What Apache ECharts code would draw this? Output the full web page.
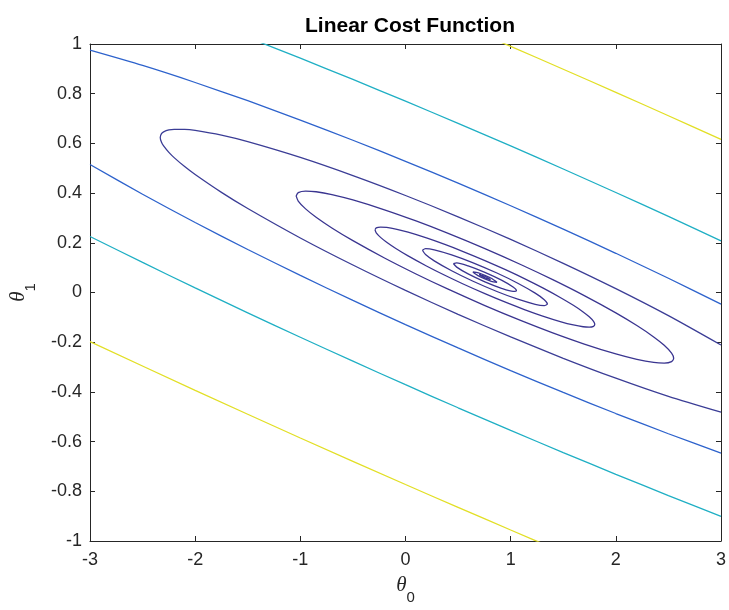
<!DOCTYPE html>
<html>
<head>
    <meta charset="utf-8">
    <script src="https://cdn.jsdelivr.net/npm/echarts@6/dist/echarts.min.js"></script>
    <style>
        *{
            margin:0;
            padding:0;
        }
        body{ background:#fff; }
    </style>
</head>
<body>
    <div id="main" style="width: 729px;height:610px;"></div>
    <script type="text/javascript">

    // axis ticks
    var xTicks = [-3, -2, -1, 0, 1, 2, 3];
    var yTicks = [-1, -0.8, -0.6, -0.4, -0.2, 0, 0.2, 0.4, 0.6, 0.8, 1];

    // contour lines, [theta0, theta1]
    var yellowUpper = [[0.5,1.0815],[1,0.9905],[1.5,0.8985],[2,0.8054],[2.5,0.7113],[3,0.6161]];
    var yellowLower = [[-3,-0.1979],[-2,-0.3938],[-1,-0.5854],[0,-0.7727],[0.5,-0.8647],[1,-0.9557],[1.5,-1.0457]];
    var cyanUpper = [[-1.5,1.0265],[-1,0.9429],[-0.5,0.8573],[0,0.7699],[0.5,0.6807],[1,0.5897],[1.5,0.4969],[2,0.4024],[2.5,0.306],[3,0.2077]];
    var cyanLower = [[-3,0.2254],[-2.5,0.1209],[-2,0.0185],[-1.5,-0.0817],[-1,-0.1801],[-0.5,-0.2765],[0,-0.3711],[0.5,-0.4639],[1,-0.5549],[1.5,-0.6441],[2,-0.7316],[2.5,-0.8172],[3,-0.9009]];
    var blueUpper = [[-3,0.975],[-2.5,0.9135],[-2,0.8451],[-1.5,0.7717],[-1,0.694],[-0.5,0.6126],[0,0.5279],[0.5,0.44],[1,0.3491],[1.5,0.255],[2,0.1578],[2.5,0.0572],[3,-0.047]];
    var blueLower = [[-3,0.515],[-2.5,0.3953],[-2,0.2817],[-1.5,0.1731],[-1,0.0688],[-0.5,-0.0318],[0,-0.1291],[0.5,-0.2232],[1,-0.3143],[1.5,-0.4022],[2,-0.487],[2.5,-0.5684],[3,-0.6462]];

    var ring1 = [[3,-0.2114],[2.5,-0.0931],[2,0.0156],[1.5,0.1175],[1,0.2137],[0.5,0.3047],[0,0.3904],[-0.5,0.4703],[-1,0.5434],[-1.5,0.6069],[-1.75,0.633],[-2,0.6522],[-2.1,0.6565],[-2.2,0.6568],[-2.25,0.654],[-2.3,0.6463],[-2.32,0.6392],[-2.332,0.6238],
        [-2.32,0.6042],[-2.3,0.5897],[-2.25,0.5638],[-2.2,0.5428],[-2.1,0.5067],[-2,0.4746],[-1.75,0.4028],[-1.5,0.3379],[-1,0.2194],[-0.5,0.1105],[0,0.0084],[0.5,-0.0879],[1,-0.1789],[1.5,-0.2647],[2,-0.3448],[2.5,-0.4181],[3,-0.4818]];
    var ring2 = [[-1.04,0.3887],[-1.02,0.4022],[-0.95,0.4081],[-0.85,0.4054],[-0.7,0.3939],[-0.5,0.3723],[-0.2,0.3327],[0.1,0.2878],[0.4,0.2388],[0.755,0.1765],[1.1,0.1116],[1.4,0.0515],[1.7,-0.0127],[2.0,-0.0821],[2.2,-0.1331],[2.36,-0.1788],[2.46,-0.2125],[2.53,-0.2441],[2.55,-0.2647],
        [2.53,-0.2781],[2.46,-0.2841],[2.36,-0.2814],[2.2,-0.2689],[2.0,-0.2471],[1.7,-0.2073],[1.4,-0.1623],[1.1,-0.1132],[0.755,-0.0525],[0.4,0.0144],[0.1,0.0746],[-0.2,0.1389],[-0.5,0.2085],[-0.7,0.2597],[-0.85,0.3028],[-0.95,0.3365],[-1.02,0.3681],[-1.04,0.3887]];
    var ring3 = [[-0.2897,0.2521],[-0.2781,0.26],[-0.2373,0.2634],[-0.1791,0.2619],[-0.0918,0.2552],[0.0246,0.2426],[0.1992,0.2195],[0.3738,0.1934],[0.5484,0.1649],[0.755,0.1286],[0.9558,0.0909],[1.1304,0.0559],[1.305,0.0185],[1.4796,-0.0219],[1.596,-0.0516],[1.6891,-0.0781],[1.7473,-0.0978],[1.788,-0.1162],[1.7997,-0.1281],
        [1.788,-0.136],[1.7473,-0.1394],[1.6891,-0.1379],[1.596,-0.1306],[1.4796,-0.1179],[1.305,-0.0947],[1.1304,-0.0685],[0.9558,-0.04],[0.755,-0.0046],[0.5484,0.0343],[0.3738,0.0693],[0.1992,0.1068],[0.0246,0.1473],[-0.0918,0.1771],[-0.1791,0.2021],[-0.2373,0.2218],[-0.2781,0.2402],[-0.2897,0.2521]];
    var ring4 = [[0.1609,0.1701],[0.1906,0.1766],[0.2734,0.1719],[0.4389,0.1516],[0.6375,0.1205],[0.8692,0.0784],[1.0678,0.0373],[1.2333,-0.0026],[1.3194,-0.0289],[1.3491,-0.0461],
        [1.3194,-0.0526],[1.2333,-0.0475],[1.0678,-0.0271],[0.8692,0.004],[0.6375,0.0462],[0.4389,0.0875],[0.2734,0.1274],[0.1906,0.1529],[0.1609,0.1701]];
    var ring5 = [[0.4552,0.1166],[0.487,0.1193],[0.5955,0.1072],[0.755,0.0811],[0.9128,0.0495],[1.023,0.0218],[1.0548,0.0074],[1.023,0.0047],[0.9128,0.017],[0.755,0.0429],[0.5955,0.0748],[0.487,0.1022],[0.4552,0.1166]];
    var ring6 = [[0.6401,0.0829],[0.6939,0.0793],[0.755,0.0693],[0.8155,0.0572],[0.8699,0.0411],[0.8155,0.0448],[0.755,0.0547],[0.6939,0.0669],[0.6401,0.0829]];
    var ring7 = [[0.701,0.0718],[0.755,0.0654],[0.809,0.0522],[0.755,0.0586],[0.701,0.0718]];

    var navy = '#3a3590';
    var contours = [
        {data: yellowUpper, color: '#e2df25'},
        {data: yellowLower, color: '#e2df25'},
        {data: cyanUpper, color: '#1fafc4'},
        {data: cyanLower, color: '#1fafc4'},
        {data: blueUpper, color: '#2d62cc'},
        {data: blueLower, color: '#2d62cc'},
        {data: ring1, color: '#3b3d96'},
        {data: ring2, color: navy},
        {data: ring3, color: navy},
        {data: ring4, color: navy},
        {data: ring5, color: navy},
        {data: ring6, color: navy},
        {data: ring7, color: navy}
    ];

    var axisColor = '#262626';
    var font = 'Liberation Sans';

    var myChart = echarts.init(document.getElementById('main'));

    function xAx(pos, show) {
        return {
            type: 'value', position: pos, min: xTicks[0], max: xTicks[xTicks.length - 1], interval: 1,
            axisLine: {show: true, onZero: false, lineStyle: {color: axisColor, width: 1}},
            axisTick: {show: true, inside: true, length: 5, lineStyle: {color: axisColor}},
            axisLabel: {show: show, margin: 10, color: axisColor, fontSize: 18, fontFamily: font},
            splitLine: {show: false}
        };
    }
    function yAx(pos, show) {
        return {
            type: 'value', position: pos, min: yTicks[0], max: yTicks[yTicks.length - 1], interval: 0.2,
            axisLine: {show: true, onZero: false, lineStyle: {color: axisColor, width: 1}},
            axisTick: {show: true, inside: true, length: 5, lineStyle: {color: axisColor}},
            axisLabel: {show: show, margin: 8, color: axisColor, fontSize: 18, fontFamily: font},
            splitLine: {show: false}
        };
    }

    var bottomX = xAx('bottom', true);
    bottomX.name = '{t|θ}{s|0}';
    bottomX.nameLocation = 'middle';
    bottomX.nameGap = 34;
    bottomX.nameTextStyle = {
        rich: {
            t: {fontSize: 21, fontStyle: 'italic', fontFamily: 'Liberation Serif', color: axisColor, lineHeight: 30, verticalAlign: 'top'},
            s: {fontSize: 15, fontFamily: font, color: axisColor, lineHeight: 30, verticalAlign: 'bottom'}
        }
    };
    var leftY = yAx('left', true);
    leftY.name = '{t|θ}{s|1}';
    leftY.nameLocation = 'middle';
    leftY.nameGap = 52;
    leftY.nameTextStyle = bottomX.nameTextStyle;

    myChart.setOption({
        animation: false,
        title: {
            text: 'Linear Cost Function',
            left: 405,
            textAlign: 'center',
            top: 11,
            textStyle: {fontSize: 21, fontWeight: 'bold', fontFamily: font, color: '#000'}
        },
        grid: {left: 88, right: 6, top: 44, bottom: 63, containLabel: false},
        xAxis: [bottomX, xAx('top', false)],
        yAxis: [leftY, yAx('right', false)],
        series: contours.map(function (c) {
            return {
                type: 'line',
                data: c.data,
                showSymbol: false,
                symbol: 'none',
                smooth: 0.25,
                clip: true,
                lineStyle: {color: c.color, width: 1.3},
                silent: true
            };
        })
    });
</script>
</body>
</html>
